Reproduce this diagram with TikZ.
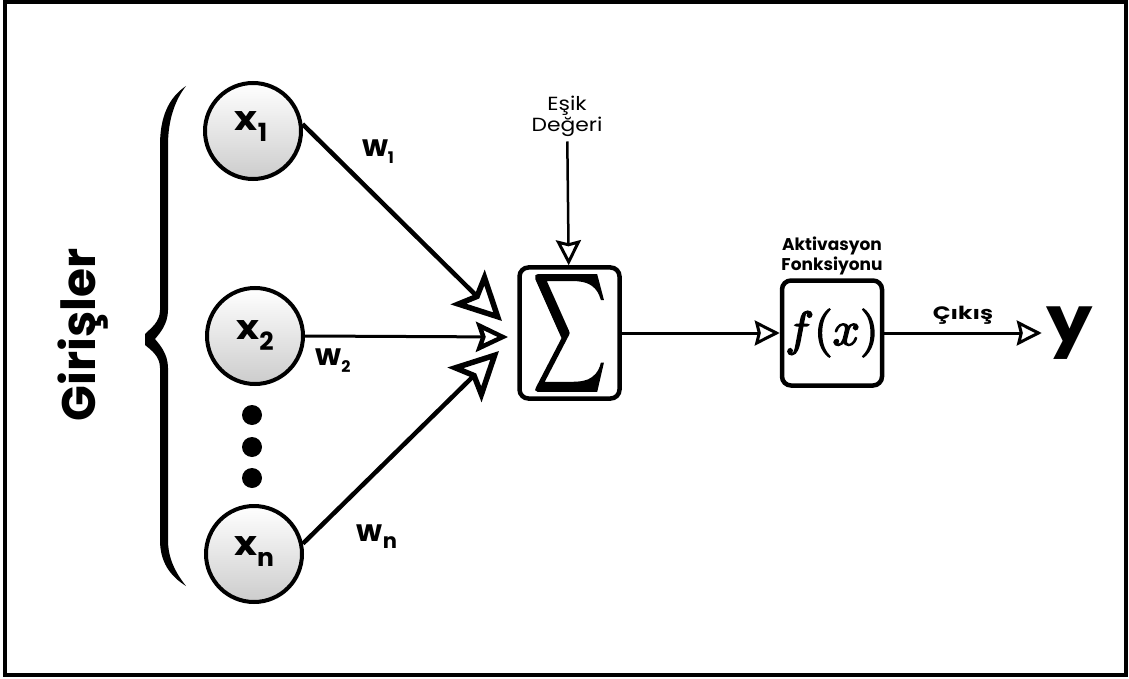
\documentclass[tikz,border=0pt]{standalone}
\usepackage{fontspec}
\setmainfont{Poppins}
\usepackage{graphicx}
\usetikzlibrary{arrows.meta}
\newcommand\strokedglyph[2]{\special{pdf:literal direct 2 Tr #1 w}#2\special{pdf:literal direct 0 Tr}}
\begin{document}
\begin{tikzpicture}[x=1pt,y=-1pt,
  inp/.style={circle, draw, line width=4pt, minimum size=96pt, inner sep=0pt,
    top color=white, bottom color=black!20},
  dotnode/.style={circle, fill=black, minimum size=20pt, inner sep=0pt},
  blockbox/.style={draw, line width=4.5pt, rounded corners=9pt, minimum width=100pt,
    minimum height=105pt, inner sep=0pt},
  bigtip/.style={-{Stealth[open, length=48pt, width=48pt, inset=10pt, line width=5.5pt]}},
  midtip/.style={-{Stealth[open, length=32pt, width=30pt, inset=5pt, line width=4.5pt]}},
  smalltip/.style={-{Stealth[open, length=25pt, width=25pt, inset=3pt, line width=3pt]}},
  xlab/.style={font=\fontsize{34}{34}\selectfont\bfseries},
  wlab/.style={font=\fontsize{30}{30}\selectfont\bfseries, inner sep=0pt},
  smalllab/.style={font=\fontsize{19}{21}\selectfont, align=center, inner sep=0pt},
]
\useasboundingbox (0,0) rectangle (1129,679);
\draw[line width=3.5pt] (5,2) rectangle (1126,675);

% brace
\fill (186,86) .. controls (168,98) and (160,118) .. (160,145) -- (160,310)
  .. controls (160,322) and (151,328) .. (145,334) -- (145,345)
  .. controls (151,350) and (160,356) .. (160,368) -- (160,540)
  .. controls (160,562) and (170,576) .. (186,586)
  .. controls (175,572) and (168,558) .. (168,540) -- (168,368)
  .. controls (168,354) and (160,345) .. (155,339)
  .. controls (160,333) and (168,324) .. (168,310) -- (168,145)
  .. controls (168,120) and (175,100) .. (186,86) -- cycle;

\node[rotate=90, font=\fontsize{47}{47}\selectfont\bfseries] (gir) at (83,335) {Girişler};

% inputs
\node[inp] (x1) at (253,131) {};
\node[inp] (x2) at (255,336) {};
\node[inp] (xn) at (254,554) {};
\node[xlab] (x1t) at (251,127) {\scalebox{1.15}[1]{x}\raisebox{-11pt}{\fontsize{25}{25}\selectfont 1}};
\node[xlab] (x2t) at (255,336) {\scalebox{1.15}[1]{x}\raisebox{-11pt}{\fontsize{25}{25}\selectfont 2}};
\node[xlab] (xnt) at (254,552) {\scalebox{1.15}[1]{x}\raisebox{-11pt}{\fontsize{25}{25}\selectfont n}};

\node[dotnode] (d1) at (252,415) {};
\node[dotnode] (d2) at (252,447) {};
\node[dotnode] (d3) at (252,478) {};

% sum and activation
\node[blockbox] (sum) at (569.5,333) {\resizebox{72pt}{86pt}{\strokedglyph{0.35}{$\displaystyle\sum$}}};
\node[blockbox] (fx) at (832,333) {\scalebox{4.8}{\strokedglyph{0.3}{$f(x)$}}};
\node[font=\fontsize{64}{64}\selectfont\bfseries, inner sep=0pt, outer sep=5pt] (y) at (1070,333) {\scalebox{1.15}[1]{y}};

% tips
\coordinate (t1) at (502,321);
\coordinate (t2) at (508,337);
\coordinate (tn) at (499,351);

\draw[line width=4.5pt, bigtip] (x1.8) -- (t1);
\draw[line width=3pt, midtip] (x2.east) -- (t2);
\draw[line width=4.5pt, bigtip] (xn.12) -- (tn);

\node[wlab] (w1) at (378,152) {w\raisebox{-7pt}{\fontsize{16}{16}\selectfont 1}};
\node[wlab] (w2) at (333,361) {w\raisebox{-7pt}{\fontsize{16}{16}\selectfont 2}};
\node[wlab] (wn) at (377,537) {w\raisebox{-7pt}{\fontsize{21}{21}\selectfont n}};

% threshold
\node[smalllab] (esik) at (567,116) {\scalebox{1.15}[1]{Eşik}\\\scalebox{1.15}[1]{Değeri}};
\draw[line width=2.5pt, smalltip, shorten <=5pt] (esik) -- (sum);

\draw[line width=3pt, smalltip] (sum) -- (fx);
\draw[line width=3pt, smalltip] (fx) -- (y);

\node[smalllab, font=\fontsize{17}{20}\selectfont\bfseries] (akt) at (832,256) {Aktivasyon\\Fonksiyonu};
\node[font=\fontsize{18}{18}\selectfont\bfseries, inner sep=0pt] (cikis) at (963,315) {\scalebox{1.3}[1]{Çıkış}};
\end{tikzpicture}
\end{document}
